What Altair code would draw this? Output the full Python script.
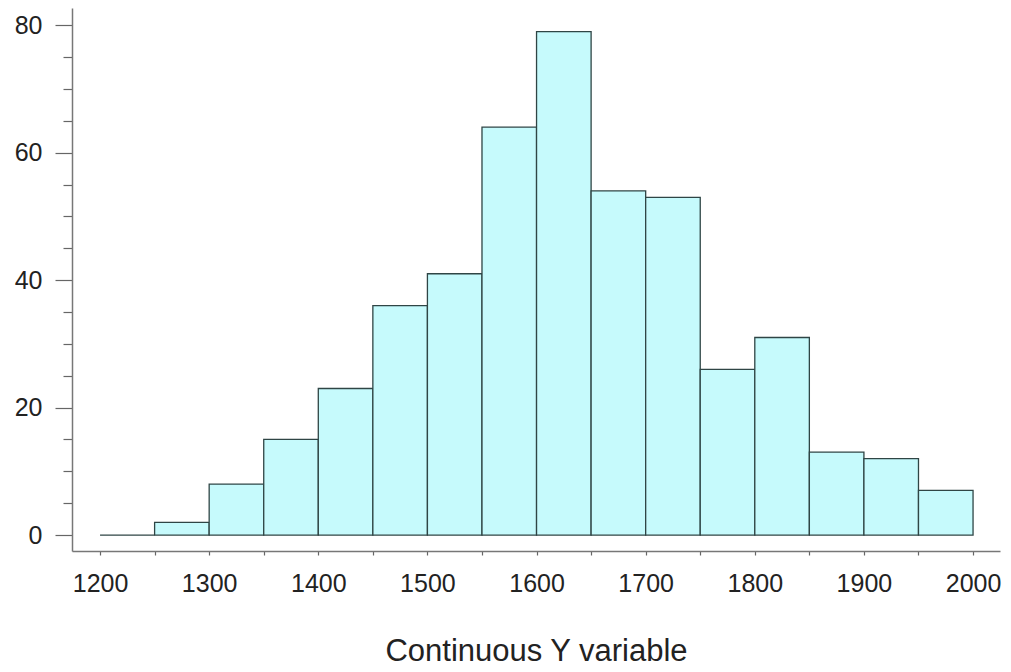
import altair as alt
import pandas as pd

bin_start = [1200, 1250, 1300, 1350, 1400, 1450, 1500, 1550,
             1600, 1650, 1700, 1750, 1800, 1850, 1900, 1950]
counts = [0, 2, 8, 15, 23, 36, 41, 64, 79, 54, 53, 26, 31, 13, 12, 7]
bin_width = 50

x_ticks = list(range(1200, 2001, 50))
y_ticks = list(range(0, 81, 5))

df = pd.DataFrame({
    "start": bin_start,
    "end": [s + bin_width for s in bin_start],
    "count": counts,
})

FONT = "Liberation Sans"

chart = alt.Chart(df).mark_bar(
    fill="#c6fafc", stroke="#2f4545", strokeWidth=1.3
).encode(
    x=alt.X("start:Q",
            scale=alt.Scale(domain=[1174.3, 2024.7], nice=False, zero=False),
            axis=alt.Axis(
                values=x_ticks,
                labelExpr="datum.value % 100 === 0 ? datum.label : ''",
                format="d",
                tickSize=4, tickColor="#666", tickWidth=1.2,
                domainColor="#777", domainWidth=1.5,
                labelFont=FONT, labelFontSize=25, labelColor="#222",
                labelPadding=16, labelFlush=False, labelOverlap=False,
                grid=False,
                title="Continuous Y variable",
                titleFont=FONT, titleFontSize=31, titleFontWeight="normal",
                titleColor="#222", titlePadding=40,
            )),
    x2="end:Q",
    y=alt.Y("count:Q",
            scale=alt.Scale(domain=[-2.5, 82.7], nice=False, zero=False),
            axis=alt.Axis(
                values=y_ticks,
                labelExpr="datum.value % 20 === 0 ? datum.label : ''",
                tickSize={"condition": {"test": "datum.value % 20 === 0", "value": 17}, "value": 9},
                tickColor="#666", tickWidth=1.2,
                domainColor="#777", domainWidth=1.5,
                labelFont=FONT, labelFontSize=25, labelColor="#222",
                labelPadding=13, labelOverlap=False,
                grid=False, title=None,
            )),
    y2=alt.datum(0),
).properties(
    width=928, height=543,
    autosize=alt.AutoSizeParams(type="none"),
    padding={"left": 72, "top": 8, "right": 11, "bottom": 121},
).configure_view(stroke=None)

chart.save("out.html", embed_options={"renderer": "svg", "actions": False})
